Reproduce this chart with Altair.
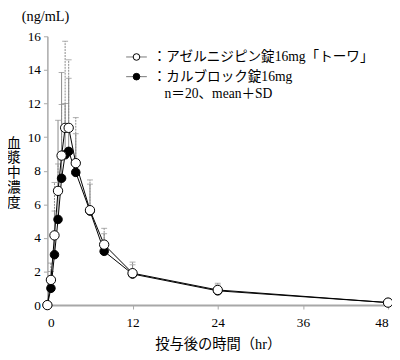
import altair as alt
import pandas as pd

# ---- data ----
time = [0, 0.5, 1, 1.5, 2, 2.5, 3, 4, 6, 8, 12, 24, 48]
generic_mean = [0, 1.5, 4.15, 6.8, 8.9, 10.55, 10.55, 8.45, 5.65, 3.6, 1.9, 0.9, 0.15]
generic_sd = [0, 1.0, 3.15, 1.6, 3.04, 5.15, 4.05, 2.71, 1.8, 0.97, 0.66, 0.4, 0]
brand_mean = [0, 1.0, 3.0, 5.1, 7.55, 8.95, 9.15, 7.9, 5.6, 3.2, 1.85, 0.85, 0.15]
brand_sd = [0, 1.0, 2.6, 5.9, 6.3, 3.05, 4.35, 2.3, 1.6, 1.05, 0.55, 0.35, 0]
x_ticks = [0, 12, 24, 36, 48]
y_ticks = [0, 2, 4, 6, 8, 10, 12, 14, 16]

generic_label = "：アゼルニジピン錠16mg「トーワ」"
brand_label = "：カルブロック錠16mg"
note_label = "n＝20、mean＋SD"
unit_label = "(ng/mL)"
y_title_chars = ["血", "漿", "中", "濃", "度"]
x_title = "投与後の時間（hr）"

FONT = "'Liberation Serif', 'Noto Sans CJK JP', serif"


def frame(mean, sd):
    df = pd.DataFrame({"time": time, "mean": mean, "sd": sd})
    df["top"] = df["mean"] + df["sd"]
    return df


gen = frame(generic_mean, generic_sd)
brd = frame(brand_mean, brand_sd)
gen_err = gen[gen["sd"] > 0]
brd_err = brd[brd["sd"] > 0]

x_axis = alt.Axis(values=x_ticks, title=x_title, titleFontSize=14.5, titleFont=FONT,
                  titleFontWeight="normal", titlePadding=9, labelPadding=7,
                  labelFont=FONT, labelFontSize=13.5, domainWidth=2)
y_axis = alt.Axis(values=y_ticks, title=None, labelPadding=3,
                  labelFont=FONT, labelFontSize=13.5, domainWidth=1.5)
xs = alt.Scale(domain=[0, 48], nice=False, zero=False)
ys = alt.Scale(domain=[0, 16], nice=False)

X = alt.X("time:Q", scale=xs, axis=x_axis)


def err_layers(df, dashed):
    kw = dict(color="#8a8a8a", strokeWidth=1)
    if dashed:
        kw["strokeDash"] = [2, 1]
    rule = alt.Chart(df).mark_rule(**kw).encode(
        x=X, y=alt.Y("mean:Q", scale=ys, axis=y_axis), y2="top:Q")
    cap = alt.Chart(df).mark_tick(orient="horizontal", size=6, thickness=1,
                                  color="#8a8a8a").encode(
        x=X, y=alt.Y("top:Q", scale=ys, axis=y_axis))
    return [rule, cap]


def line_layer(df):
    return alt.Chart(df).mark_line(color="black", strokeWidth=1).encode(
        x=X, y=alt.Y("mean:Q", scale=ys, axis=y_axis))


def point_layer(df, fill, size):
    return alt.Chart(df).mark_circle(fill=fill, stroke="black", strokeWidth=1,
                                     size=size, opacity=1).encode(
        x=X, y=alt.Y("mean:Q", scale=ys, axis=y_axis))


one = pd.DataFrame({"k": [0]})


def text_at(txt, x, y, size=13.5, align="left", baseline="middle"):
    return alt.Chart(one).mark_text(text=txt, font=FONT, fontSize=size, align=align,
                                    baseline=baseline, color="black").encode(
        x=alt.value(x), y=alt.value(y))


def legend_marker(y, fill):
    seg = alt.Chart(one).mark_rule(color="#777", strokeWidth=1).encode(
        x=alt.value(80), x2=alt.value(101), y=alt.value(y))
    dot = alt.Chart(one).mark_circle(fill=fill, stroke="black", strokeWidth=1,
                                     size=45, opacity=1).encode(
        x=alt.value(90.5), y=alt.value(y))
    return [seg, dot]


layers = []
layers += err_layers(brd_err, dashed=False)
layers += err_layers(gen_err, dashed=True)
layers += [line_layer(brd), line_layer(gen)]
layers += [point_layer(brd, "black", 75), point_layer(gen, "white", 90)]
layers += legend_marker(21, "white") + legend_marker(41, "black")
layers += [
    text_at(generic_label, 107, 21, size=13.8),
    text_at(brand_label, 107, 41, size=13.8),
    text_at(note_label, 119, 59, size=13.8),
    text_at(unit_label, -26, -20, size=14.5),
]
for i, ch in enumerate(y_title_chars):
    layers.append(text_at(ch, -34, 109 + 15 * i, size=14, align="center"))

chart = alt.layer(*layers).properties(
    width=346, height=273,
    autosize=alt.AutoSizeParams(type="none"),
    padding={"left": 40, "top": 26, "right": 4, "bottom": 52},
).configure_view(stroke=None).configure_axis(
    domainColor="#a8a8a8", tickColor="#a8a8a8", tickSize=4, grid=False,
    labelFont=FONT, labelColor="black", titleColor="black",
)

chart.save("out.html", embed_options={"renderer": "svg", "actions": False})
